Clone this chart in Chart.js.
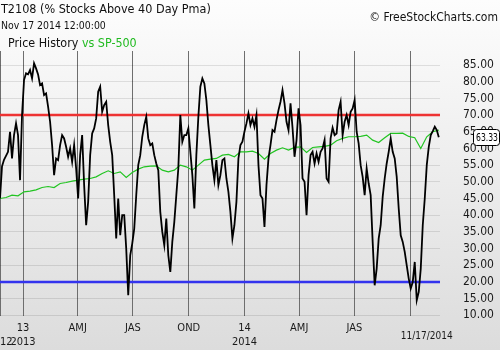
<!DOCTYPE html>
<html>
<head>
<meta charset="utf-8">
<script src="https://cdn.jsdelivr.net/npm/chart.js@4/dist/chart.umd.min.js"></script>
<style>
  html, body { margin: 0; padding: 0; }
  #wrap {
    position: relative; width: 500px; height: 350px; overflow: hidden;
    background: linear-gradient(#fdfdfd, #dcdcdc);
    font-family: 'DejaVu Sans Condensed', 'DejaVu Sans', sans-serif; color: #111;
  }
  #wrap canvas { position: absolute; left: 0; top: 0; }
  .hd { position: absolute; white-space: nowrap; line-height: 1; }
</style>
</head>
<body>
<div id="wrap">
  <canvas id="t2108-chart" width="500" height="350"></canvas>
  <div class="hd" style="left:1px;top:3px;font-size:12.5px">T2108 (% Stocks Above 40 Day Pma)</div>
  <div class="hd" style="left:1px;top:19.5px;font-size:10.4px">Nov 17 2014 12:00:00</div>
  <div class="hd" style="left:8px;top:37px;font-size:12.4px">Price History <span style="color:#22bb22">vs SP-500</span></div>
  <div class="hd" style="right:2px;top:10.5px;font-size:12px">© FreeStockCharts.com</div>
</div>
<script>
// x unit: days counted from 1 Jan 2013
const firstDay = -38;          // 24 Nov 2012, left edge
const lastDay = 685;           // 17 Nov 2014, last session
const axisEndDay = 687;
const lastDateLabel = '11/17/2014';

const quarterDays   = [-38, 0, 90, 181, 273, 365, 455, 546, 638];
const quarterLabels = [['', '2012'], ['13', '2013'], 'AMJ', 'JAS', 'OND', ['14', '2014'], 'AMJ', 'JAS', ''];

const yTicks = [10, 15, 20, 25, 30, 35, 40, 45, 50, 55, 60, 65, 70, 75, 80, 85];
const levelValues = [70, 20];
const levelColors = ['#ee3333', '#3333ee'];

// T2108, read every ~3.3 days from first to last day
const t2108 = [
  45.0, 54.6, 56.6, 57.8, 59.0, 65.0, 57.0, 64.0, 67.5, 64.0,
  50.5, 70.0, 80.5, 82.5, 82.2, 83.5, 81.0, 85.5, 84.0, 82.2,
  79.0, 79.5, 76.0, 76.5, 72.5, 68.0, 61.0, 52.0, 57.0, 56.5,
  61.0, 64.0, 63.0, 60.5, 57.5, 60.0, 56.0, 61.0, 54.0, 45.0,
  58.0, 64.0, 49.0, 37.0, 44.0, 58.0, 64.5, 66.0, 69.0, 77.0,
  78.5, 71.0, 73.0, 74.0, 67.0, 62.0, 58.0, 46.0, 33.0, 45.0,
  34.0, 40.0, 40.0, 30.0, 16.0, 28.0, 31.5, 36.0, 46.0, 55.0,
  58.0, 63.5, 67.0, 69.5, 63.0,
  61.0, 61.5, 58.0, 55.5, 53.5, 41.0, 35.0, 31.0, 39.0, 28.0,
  23.0, 32.0, 38.0, 46.0, 54.0, 70.0, 62.0, 64.0, 64.0, 66.0,
  59.0, 52.0, 42.0, 58.0, 69.5, 78.5, 81.0, 79.5, 74.5, 67.0,
  61.0, 55.0, 50.5, 56.5, 49.0, 52.0, 56.5, 57.0, 51.0, 47.0,
  41.0, 33.0, 37.0, 44.0, 57.0, 61.0, 62.0, 65.0, 67.5, 70.5,
  67.0, 69.0, 66.5, 70.0, 55.0, 46.0, 45.0, 36.5, 49.0, 57.0,
  61.0, 65.5, 65.0, 68.5, 71.5, 74.0, 77.5, 73.5, 68.0, 65.5,
  73.5, 66.2, 57.5,
  62.5, 72.0, 67.0, 51.0, 50.0, 40.0, 52.0, 58.0, 59.0, 55.5,
  58.5, 56.0, 59.0, 60.0, 62.5, 51.0, 50.0, 63.0, 66.2, 64.0,
  64.5, 71.5, 74.0, 64.0, 68.0, 70.0, 67.0, 71.0, 72.0, 74.5,
  65.0, 61.5, 55.0, 51.5, 46.0, 54.0, 49.5, 46.0, 32.0, 19.0,
  24.0, 33.0, 37.0, 45.5, 51.0, 55.5, 59.0, 63.0, 59.0, 57.0,
  51.5, 42.0, 34.0, 32.0, 29.0, 25.0, 21.0, 18.0, 20.0, 26.0,
  14.5, 17.0, 24.0, 37.0, 45.0, 55.0, 60.5, 64.0, 65.2, 66.5,
  65.5, 63.33
];

// S&P 500 overlay (rescaled to the T2108 axis), read every ~10 days
const sp500 = [
  45.0, 45.3, 46.0, 45.8, 47.0, 47.2, 47.6, 48.3, 48.6, 48.3,
  49.5, 49.8, 50.2, 50.5, 50.8, 51.0, 51.5, 52.5, 53.3, 52.5,
  53.0, 51.3, 52.8, 53.8, 54.5,
  54.7, 54.8, 53.5, 53.0, 53.5, 55.0, 54.5, 53.5, 55.0, 56.5,
  56.8, 57.0, 58.0, 58.2, 57.5, 59.0, 59.0, 59.2, 58.5, 56.8,
  58.5, 59.5, 60.2, 59.5, 60.3,
  60.5, 58.8, 60.3, 60.5, 60.6, 61.0, 62.3, 63.0, 63.5, 63.5,
  63.6, 64.0, 62.5, 61.8, 63.2, 64.5, 64.5, 64.6, 63.6, 63.2,
  60.0, 63.5, 65.0, 65.5
];

const FONT = "'DejaVu Sans Condensed','DejaVu Sans',sans-serif";

function toPoints(vals) {
  const step = (lastDay - firstDay) / (vals.length - 1);
  return vals.map((v, i) => ({x: firstDay + i * step, y: v}));
}

const lastValueBox = {
  id: 'lastValueBox',
  afterDraw(chart) {
    const {ctx, scales: {x, y}} = chart;
    const v = t2108[t2108.length - 1];
    const py = Math.round(y.getPixelForValue(v)) + 0.5;
    ctx.save();
    ctx.fillStyle = '#fff';
    ctx.strokeStyle = '#000';
    ctx.lineWidth = 1;
    ctx.beginPath();
    ctx.roundRect(473.5, py - 8, 26, 16, 3);
    ctx.fill();
    ctx.stroke();
    ctx.fillStyle = '#000';
    ctx.font = '11px ' + FONT;
    ctx.textBaseline = 'middle';
    ctx.fillText(v.toFixed(2), 476, py + 0.5, 22);
    ctx.font = '10px ' + FONT;
    ctx.textAlign = 'center';
    ctx.fillStyle = '#1a1a1a';
    ctx.fillText(lastDateLabel, x.getPixelForValue(lastDay) - 12, 336);
    ctx.restore();
  }
};

Chart.defaults.font.family = FONT;

new Chart(document.getElementById('t2108-chart').getContext('2d'), {
  type: 'line',
  data: {
    datasets: [
      {data: toPoints(t2108), borderColor: '#000', borderWidth: 1.8, order: 0},
      {data: toPoints(sp500), borderColor: '#22c422', borderWidth: 1.2, order: 1},
      ...levelValues.map((lv, i) => ({
        data: [{x: firstDay, y: lv}, {x: axisEndDay, y: lv}],
        borderColor: levelColors[i], borderWidth: 2.5, order: 2
      }))
    ]
  },
  options: {
    responsive: false,
    animation: false,
    devicePixelRatio: 1,
    layout: {padding: {top: 51, left: 0, right: 0, bottom: 0}},
    elements: {point: {radius: 0}, line: {tension: 0}},
    plugins: {legend: {display: false}, tooltip: {enabled: false}},
    scales: {
      x: {
        type: 'linear', min: firstDay, max: axisEndDay,
        afterBuildTicks: s => { s.ticks = quarterDays.map(v => ({value: v})); },
        afterFit: s => { s.height = 34; s.paddingLeft = 0; s.paddingRight = 0; },
        border: {display: false},
        grid: {color: '#6e6e6e', lineWidth: 1, drawTicks: false},
        ticks: {autoSkip: false, maxRotation: 0, minRotation: 0, padding: 6, color: '#1a1a1a',
                font: {size: 11}, callback: (v, i) => quarterLabels[i]}
      },
      y: {
        position: 'right', min: 9.8, max: 89.2,
        afterBuildTicks: s => { s.ticks = yTicks.map(v => ({value: v})); },
        afterFit: s => { s.width = 60; s.paddingTop = 0; s.paddingBottom = 0; },
        border: {display: false},
        grid: {color: 'rgba(0,0,0,0.1)', drawTicks: false},
        ticks: {padding: 23, color: '#1a1a1a', font: {size: 12}, callback: v => v.toFixed(2)}
      }
    }
  },
  plugins: [lastValueBox]
});
</script>
</body>
</html>
